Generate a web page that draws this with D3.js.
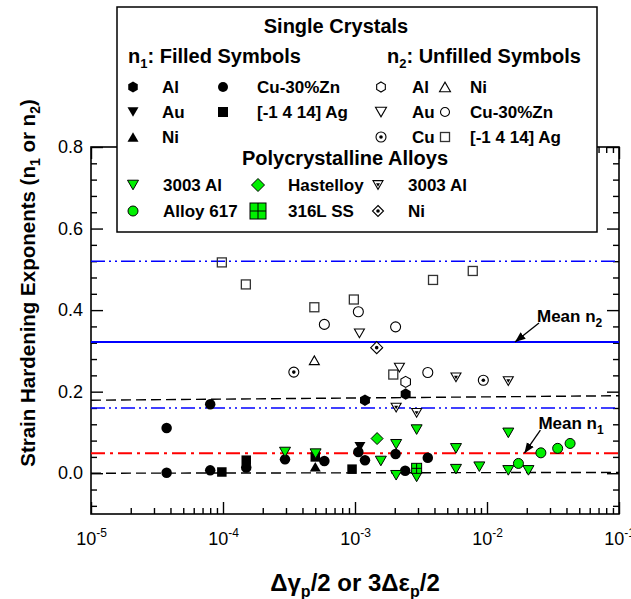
<!DOCTYPE html>
<html>
<head>
<meta charset="utf-8">
<script src="https://cdn.jsdelivr.net/npm/d3@7/dist/d3.min.js"></script>
<style>
body { margin: 0; background: #fff; }
text { font-family: Arial, "Liberation Sans", sans-serif; fill: #000; }
</style>
</head>
<body>
<script>
// single crystals, n1 (filled symbols)  [strain amplitude, exponent]
var n1Al = [[1.19e-3, 0.179], [2.42e-3, 0.194]];
var n1Au = [[1.09e-3, 0.065]];
var n1Ni = [[5.0e-4, 0.016]];
var n1CuZn = [[3.74e-5, 0.111], [3.74e-5, 0.001], [8.0e-5, 0.169], [8.0e-5, 0.007],
              [1.5e-4, 0.014], [2.95e-4, 0.034], [5.86e-4, 0.030], [1.06e-3, 0.052],
              [1.19e-3, 0.032], [2.03e-3, 0.047], [2.4e-3, 0.006], [3.56e-3, 0.038]];
var n1Ag = [[9.8e-5, 0.003], [1.5e-4, 0.032], [5.0e-4, 0.040], [9.5e-4, 0.010]];

// single crystals, n2 (unfilled symbols)
var n2Al = [[2.42e-3, 0.224]];
var n2Au = [[1.08e-3, 0.343], [2.17e-3, 0.259]];
var n2Cu = [[3.44e-4, 0.248], [9.38e-3, 0.228]];
var n2Ni = [[4.92e-4, 0.277]];
var n2CuZn = [[5.86e-4, 0.365], [1.06e-3, 0.396], [2.03e-3, 0.359], [3.56e-3, 0.247]];
var n2Ag = [[9.8e-5, 0.517], [1.49e-4, 0.463], [4.92e-4, 0.407], [9.8e-4, 0.426],
            [1.95e-3, 0.242], [3.9e-3, 0.474], [7.8e-3, 0.496]];

// polycrystalline alloys
var al3003N1 = [[2.95e-4, 0.052], [5.03e-4, 0.048], [1.57e-3, 0.030], [2.05e-3, 0.071],
                [2.05e-3, -0.005], [2.93e-3, 0.107], [2.93e-3, -0.009], [5.82e-3, 0.061],
                [5.82e-3, 0.010], [8.75e-3, 0.016], [1.45e-2, 0.099], [1.45e-2, 0.007],
                [2.06e-2, 0.007]];
var alloy617 = [[1.73e-2, 0.024], [2.56e-2, 0.050], [3.43e-2, 0.061], [4.26e-2, 0.073]];
var hastelloy = [[1.47e-3, 0.085]];
var ss316L = [[2.93e-3, 0.012]];
var al3003N2 = [[2.05e-3, 0.161], [2.93e-3, 0.148], [5.82e-3, 0.235], [1.45e-2, 0.226]];
var niPolyN2 = [[1.46e-3, 0.308]];

// reference lines
var meanN1 = 0.049;
var meanN2 = 0.322;
var n2Band = [0.16, 0.52];
var fitUpper = [[1e-5, 0.179], [1e-1, 0.19]];
var fitLower = [[1e-5, 0.0], [1e-1, 0.002]];
var meanN1Tip = [1.92e-2, meanN1];
var meanN2Tip = [1.63e-2, meanN2];

// ticks
var xTicks = [1e-5, 1e-4, 1e-3, 1e-2, 1e-1];
var xTickExp = ["-5", "-4", "-3", "-2", "-1"];
var yTicks = [0.0, 0.2, 0.4, 0.6, 0.8];

var W = 631, H = 599;
var pL = 91, pR = 619, pT = 147, pB = 514;

var svg = d3.select("body").append("svg")
    .attr("width", W)
    .attr("height", H);

var x = d3.scaleLog().domain([1e-5, 1e-1]).range([pL, pR]);
var y = d3.scaleLinear().domain([-0.1, 0.8]).range([pB, pT]);

// marker shapes, s = nominal size in px
function hexPath(r) {
    var pts = d3.range(6).map(function(k) {
        var a = -Math.PI / 2 + k * Math.PI / 3;
        return [r * Math.cos(a), r * Math.sin(a)];
    });
    return "M" + pts.join("L") + "Z";
}
function triPath(w, down) {
    var h = w * 0.87, d = down ? 1 : -1;
    return "M" + (-w / 2) + "," + (-d * h / 2) + "L" + (w / 2) + "," + (-d * h / 2) + "L0," + (d * h / 2) + "Z";
}
function diamondPath(r) {
    return "M0," + (-r) + "L" + r + ",0L0," + r + "L" + (-r) + ",0Z";
}

function drawMarker(g, type, s) {
    var green = "#00f000";
    switch (type) {
        case "hexF":
            g.append("path").attr("d", hexPath(s / 2)).style("fill", "#000");
            break;
        case "hexO":
            g.append("path").attr("d", hexPath(s / 2)).style("fill", "none").style("stroke", "#000").style("stroke-width", 1.1);
            break;
        case "triDownF":
            g.append("path").attr("d", triPath(s, true)).style("fill", "#000");
            break;
        case "triUpF":
            g.append("path").attr("d", triPath(s, false)).style("fill", "#000");
            break;
        case "triDownO":
            g.append("path").attr("d", triPath(s, true)).style("fill", "none").style("stroke", "#000").style("stroke-width", 1.1);
            break;
        case "triUpO":
            g.append("path").attr("d", triPath(s, false)).style("fill", "none").style("stroke", "#000").style("stroke-width", 1.1);
            break;
        case "circleF":
            g.append("circle").attr("r", s / 2).style("fill", "#000");
            break;
        case "circleO":
            g.append("circle").attr("r", s / 2).style("fill", "none").style("stroke", "#000").style("stroke-width", 1.1);
            break;
        case "circleDot":
            g.append("circle").attr("r", s / 2).style("fill", "none").style("stroke", "#000").style("stroke-width", 1.1);
            g.append("circle").attr("r", 1.8).style("fill", "#000");
            break;
        case "squareF":
            g.append("rect").attr("x", -s / 2).attr("y", -s / 2).attr("width", s).attr("height", s).style("fill", "#000");
            break;
        case "squareO":
            g.append("rect").attr("x", -s / 2).attr("y", -s / 2).attr("width", s).attr("height", s)
                .style("fill", "none").style("stroke", "#333").style("stroke-width", 1.3);
            break;
        case "triDownG":
            g.append("path").attr("d", triPath(s, true)).style("fill", green).style("stroke", "#000").style("stroke-width", 1);
            break;
        case "circleG":
            g.append("circle").attr("r", s / 2).style("fill", green).style("stroke", "#000").style("stroke-width", 1);
            break;
        case "diamondG":
            g.append("path").attr("d", diamondPath(s / 2)).style("fill", green).style("stroke", "#000").style("stroke-width", 1);
            break;
        case "squareCrossG":
            g.append("rect").attr("x", -s / 2).attr("y", -s / 2).attr("width", s).attr("height", s)
                .style("fill", green).style("stroke", "#000").style("stroke-width", 1);
            g.append("path").attr("d", "M0," + (-s / 2) + "V" + (s / 2) + "M" + (-s / 2) + ",0H" + (s / 2))
                .style("stroke", "#000").style("stroke-width", 1);
            break;
        case "triDownDot":
            g.append("path").attr("d", triPath(s, true)).style("fill", "#fff").style("stroke", "#000").style("stroke-width", 1.1);
            g.append("path").attr("d", triPath(s * 0.4, true)).style("fill", "#000");
            break;
        case "diamondDot":
            g.append("path").attr("d", diamondPath(s / 2)).style("fill", "#fff").style("stroke", "#000").style("stroke-width", 1.1);
            g.append("circle").attr("r", 1.8).style("fill", "#000");
            break;
    }
}

// plot frame
svg.append("rect")
    .attr("x", pL).attr("y", pT)
    .attr("width", pR - pL).attr("height", pB - pT)
    .style("fill", "none").style("stroke", "#000").style("stroke-width", 1.6);

// y axis ticks (inward) on left and right
var yMinor = d3.range(-2, 21).filter(function(i) { return i % 5 !== 0; }).map(function(i) { return i * 0.04; });

var yLeft = svg.append("g").attr("transform", "translate(" + pL + ",0)")
    .call(d3.axisLeft(y).tickValues(yTicks).tickSizeInner(-12).tickSizeOuter(0).tickPadding(8).tickFormat(d3.format(".1f")));
yLeft.selectAll("text").style("font-size", "18px").style("font-family", "Arial, 'Liberation Sans', sans-serif");
svg.append("g").attr("transform", "translate(" + pL + ",0)")
    .call(d3.axisLeft(y).tickValues(yMinor).tickSizeInner(-6).tickSizeOuter(0).tickFormat(""));
svg.append("g").attr("transform", "translate(" + pR + ",0)")
    .call(d3.axisRight(y).tickValues(yTicks).tickSizeInner(-12).tickSizeOuter(0).tickFormat(""));
svg.append("g").attr("transform", "translate(" + pR + ",0)")
    .call(d3.axisRight(y).tickValues(yMinor).tickSizeInner(-6).tickSizeOuter(0).tickFormat(""));

// x axis ticks (inward) on bottom and top
var xMinor = [];
xTicks.slice(0, 4).forEach(function(t) {
    d3.range(2, 10).forEach(function(m) { xMinor.push(t * m); });
});

var xBottom = svg.append("g").attr("transform", "translate(0," + pB + ")")
    .call(d3.axisBottom(x).tickValues(xTicks).tickSizeInner(-12).tickSizeOuter(0).tickPadding(10).tickFormat(function() { return ""; }));
svg.append("g").attr("transform", "translate(0," + pB + ")")
    .call(d3.axisBottom(x).tickValues(xMinor).tickSizeInner(-6).tickSizeOuter(0).tickFormat(""));
svg.append("g").attr("transform", "translate(0," + pT + ")")
    .call(d3.axisTop(x).tickValues(xTicks).tickSizeInner(-12).tickSizeOuter(0).tickFormat(""));
svg.append("g").attr("transform", "translate(0," + pT + ")")
    .call(d3.axisTop(x).tickValues(xMinor).tickSizeInner(-6).tickSizeOuter(0).tickFormat(""));

svg.selectAll(".domain").remove();
svg.selectAll(".tick line").style("stroke", "#000").style("stroke-width", 1.4);

// x tick labels as 10 with superscript
xBottom.selectAll(".tick text").each(function(d, i) {
    var t = d3.select(this).attr("y", 31).attr("dy", null).style("font-size", "18px");
    t.append("tspan").text("10");
    t.append("tspan").attr("dy", -8).style("font-size", "12px").text(xTickExp[i]);
});

// reference lines
var line = d3.line().x(function(d) { return x(d[0]); }).y(function(d) { return y(d[1]); });

svg.append("path").datum(fitUpper).attr("d", line)
    .style("fill", "none").style("stroke", "#000").style("stroke-width", 1.4).style("stroke-dasharray", "10,5");
svg.append("path").datum(fitLower).attr("d", line)
    .style("fill", "none").style("stroke", "#000").style("stroke-width", 1.4).style("stroke-dasharray", "10,5");

n2Band.forEach(function(v) {
    svg.append("path").datum([[1e-5, v], [1e-1, v]]).attr("d", line)
        .style("fill", "none").style("stroke", "#0000ff").style("stroke-width", 1.4)
        .style("stroke-dasharray", "14,4,2,4,2,4");
});
svg.append("path").datum([[1e-5, meanN2], [1e-1, meanN2]]).attr("d", line)
    .style("fill", "none").style("stroke", "#0000ff").style("stroke-width", 2);
svg.append("path").datum([[1e-5, meanN1], [1e-1, meanN1]]).attr("d", line)
    .style("fill", "none").style("stroke", "#ff0000").style("stroke-width", 2)
    .style("stroke-dasharray", "14,5,3,5");

// data series, drawn single crystals first
var series = [
    {data: n2Ag, type: "squareO", size: 9},
    {data: n2CuZn, type: "circleO", size: 10},
    {data: n2Au, type: "triDownO", size: 10},
    {data: n2Ni, type: "triUpO", size: 10},
    {data: n2Cu, type: "circleDot", size: 10},
    {data: n2Al, type: "hexO", size: 11},
    {data: n1CuZn, type: "circleF", size: 10.5},
    {data: n1Ag, type: "squareF", size: 9.5},
    {data: n1Al, type: "hexF", size: 11.5},
    {data: n1Au, type: "triDownF", size: 11},
    {data: n1Ni, type: "triUpF", size: 11},
    {data: al3003N2, type: "triDownDot", size: 10},
    {data: niPolyN2, type: "diamondDot", size: 12},
    {data: hastelloy, type: "diamondG", size: 12},
    {data: al3003N1, type: "triDownG", size: 11},
    {data: alloy617, type: "circleG", size: 10},
    {data: ss316L, type: "squareCrossG", size: 10}
];

series.forEach(function(s) {
    svg.append("g").selectAll("g")
        .data(s.data)
        .enter()
        .append("g")
        .attr("transform", function(d) { return "translate(" + x(d[0]) + "," + y(d[1]) + ")"; })
        .each(function() { drawMarker(d3.select(this), s.type, s.size); });
});

// arrowhead
svg.append("defs").append("marker")
    .attr("id", "arrow")
    .attr("viewBox", "0 0 10 10")
    .attr("refX", 10).attr("refY", 5)
    .attr("markerWidth", 8).attr("markerHeight", 8)
    .attr("orient", "auto")
    .append("path").attr("d", "M0,1L10,5L0,9Z").style("fill", "#000");

function meanLabel(tip, dx, dy, sub) {
    var tx = x(tip[0]), ty = y(tip[1]);
    svg.append("line")
        .attr("x1", tx + dx).attr("y1", ty - dy)
        .attr("x2", tx).attr("y2", ty)
        .style("stroke", "#000").style("stroke-width", 1.3)
        .attr("marker-end", "url(#arrow)");
    var t = svg.append("text")
        .attr("x", tx + dx - 2).attr("y", ty - dy - 1)
        .style("font-size", "17px").style("font-weight", "bold");
    t.append("tspan").text("Mean n");
    t.append("tspan").attr("dy", 5).style("font-size", "12px").text(sub);
}
meanLabel(meanN2Tip, 24, 19, "2");
meanLabel(meanN1Tip, 16, 23, "1");

// axis titles
var xt = svg.append("text")
    .attr("x", 355).attr("y", 591)
    .attr("text-anchor", "middle")
    .style("font-size", "24px").style("font-weight", "bold");
xt.append("tspan").text("\u0394\u03b3");
xt.append("tspan").attr("dy", 6).style("font-size", "16px").text("p");
xt.append("tspan").attr("dy", -6).text("/2 or 3\u0394\u03b5");
xt.append("tspan").attr("dy", 6).style("font-size", "16px").text("p");
xt.append("tspan").attr("dy", -6).text("/2");

var yt = svg.append("text")
    .attr("transform", "translate(35,283) rotate(-90)")
    .attr("text-anchor", "middle")
    .style("font-size", "20.5px").style("font-weight", "bold");
yt.append("tspan").text("Strain Hardening Exponents (n");
yt.append("tspan").attr("dy", 5).style("font-size", "14px").text("1");
yt.append("tspan").attr("dy", -5).text(" or n");
yt.append("tspan").attr("dy", 5).style("font-size", "14px").text("2");
yt.append("tspan").attr("dy", -5).text(")");

// legend
var lg = svg.append("g");
lg.append("rect")
    .attr("x", 117).attr("y", 7).attr("width", 480).attr("height", 225)
    .style("fill", "#fff").style("stroke", "#000").style("stroke-width", 1.5);

function heading(xp, yp, parts, anchor) {
    var t = lg.append("text").attr("x", xp).attr("y", yp)
        .attr("text-anchor", anchor || "start")
        .style("font-size", "20px").style("font-weight", "bold");
    parts.forEach(function(p) {
        var ts = t.append("tspan").text(p[0]);
        if (p[1]) ts.attr("dy", p[1]);
        if (p[2]) ts.style("font-size", p[2]);
    });
}
heading(336, 33, [["Single Crystals"]], "middle");
heading(128, 63, [["n"], ["1", 5, "13px"], [": Filled Symbols", -5]]);
heading(387, 63, [["n"], ["2", 5, "13px"], [": Unfilled Symbols", -5]]);
heading(345, 165, [["Polycrystalline Alloys"]], "middle");

var legendSingle = [
    {label: "Al", type: "hexF", col: 0, row: 0, size: 11},
    {label: "Au", type: "triDownF", col: 0, row: 1, size: 11},
    {label: "Ni", type: "triUpF", col: 0, row: 2, size: 11},
    {label: "Cu-30%Zn", type: "circleF", col: 1, row: 0, size: 10},
    {label: "[-1 4 14] Ag", type: "squareF", col: 1, row: 1, size: 10},
    {label: "Al", type: "hexO", col: 2, row: 0, size: 10},
    {label: "Au", type: "triDownO", col: 2, row: 1, size: 11},
    {label: "Cu", type: "circleDot", col: 2, row: 2, size: 10},
    {label: "Ni", type: "triUpO", col: 3, row: 0, size: 11},
    {label: "Cu-30%Zn", type: "circleO", col: 3, row: 1, size: 9},
    {label: "[-1 4 14] Ag", type: "squareO", col: 3, row: 2, size: 9}
];
var legendPoly = [
    {label: "3003 Al", type: "triDownG", col: 0, row: 0, size: 11},
    {label: "Alloy 617", type: "circleG", col: 0, row: 1, size: 10},
    {label: "Hastelloy", type: "diamondG", col: 1, row: 0, size: 13},
    {label: "316L SS", type: "squareCrossG", col: 1, row: 1, size: 16},
    {label: "3003 Al", type: "triDownDot", col: 2, row: 0, size: 10},
    {label: "Ni", type: "diamondDot", col: 2, row: 1, size: 11}
];

var singleMarkX = [133, 223, 381, 445], singleTextX = [162, 257, 412, 470];
var singleRowY = [87, 112, 137];
var polyMarkX = [133, 258, 378], polyTextX = [163, 288, 408];
var polyRowY = [185, 211];

legendSingle.forEach(function(d) {
    var g = lg.append("g").attr("transform", "translate(" + singleMarkX[d.col] + "," + singleRowY[d.row] + ")");
    drawMarker(g, d.type, d.size);
    lg.append("text").attr("x", singleTextX[d.col]).attr("y", singleRowY[d.row] + 6)
        .style("font-size", "17px").style("font-weight", "bold").text(d.label);
});
legendPoly.forEach(function(d) {
    var g = lg.append("g").attr("transform", "translate(" + polyMarkX[d.col] + "," + polyRowY[d.row] + ")");
    drawMarker(g, d.type, d.size);
    lg.append("text").attr("x", polyTextX[d.col]).attr("y", polyRowY[d.row] + 6)
        .style("font-size", "17px").style("font-weight", "bold").text(d.label);
});
</script>
</body>
</html>
